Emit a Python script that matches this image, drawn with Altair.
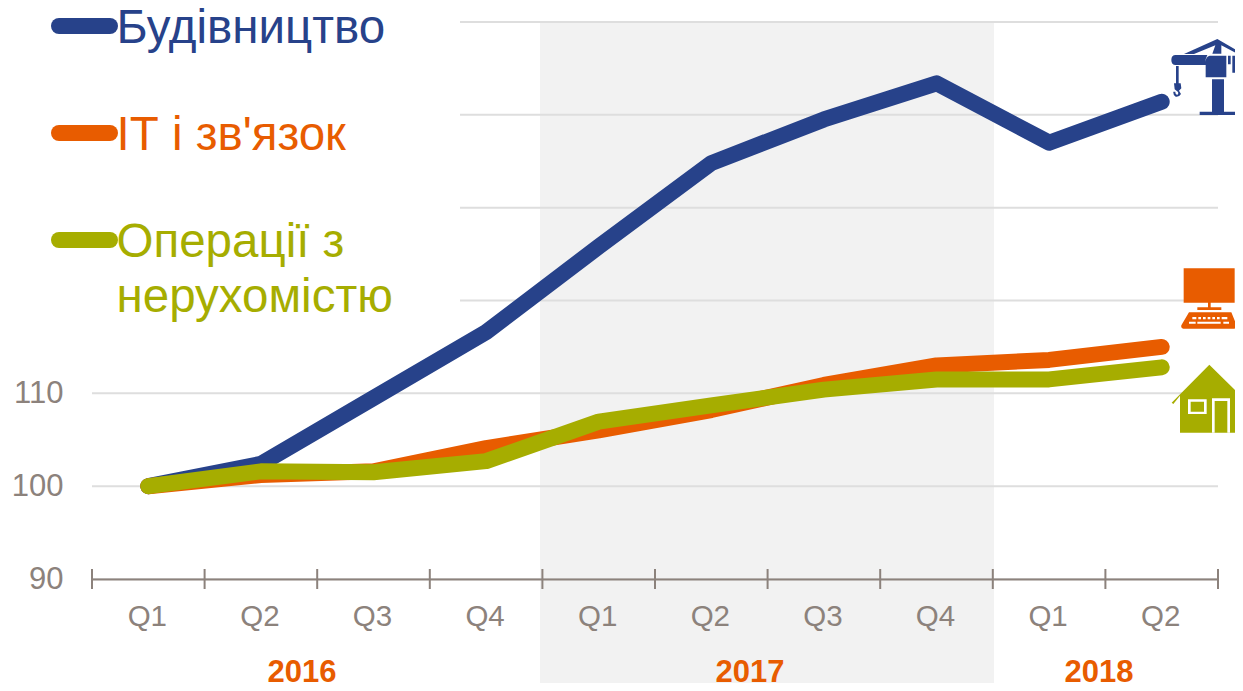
import altair as alt
import pandas as pd

FONT = "Liberation Sans"
NAVY, ORANGE, OLIVE = "#27428a", "#e85c00", "#a6ad00"
GREY = "#8c827c"
GRID = "#dedede"

cats = ["2016 Q1","2016 Q2","2016 Q3","2016 Q4","2017 Q1","2017 Q2","2017 Q3","2017 Q4","2018 Q1","2018 Q2"]
construction = [100, 102.4, 109.5, 116.6, 125.8, 134.8, 139.5, 143.4, 137.0, 141.4]
it_comm = [100, 101.2, 101.6, 104.1, 106.0, 108.2, 110.9, 113.0, 113.6, 115.0]
real_estate = [100, 101.6, 101.5, 102.7, 106.95, 108.7, 110.4, 111.5, 111.5, 112.8]

W, H = 1126, 557
xscale = alt.Scale(domain=cats, paddingInner=0, paddingOuter=0)
xaxis = alt.Axis(title=None, labelExpr="split(datum.value,' ')[1]", labelAngle=0,
                 labelFont=FONT, labelFontSize=29.5, labelColor=GREY, labelPadding=23, labelOffset=-1,
                 ticks=False, domainColor=GREY, domainWidth=2, grid=False, zindex=1)
yscale = alt.Scale(domain=[90, 150], nice=False, zero=False)
yaxis = alt.Axis(title=None, values=[90, 100, 110], labelFont=FONT, labelFontSize=31,
                 labelColor=GREY, labelPadding=29, domain=False, ticks=False, grid=False)
xenc = alt.X("q:N", sort=cats, scale=xscale, axis=xaxis)
yenc = alt.Y("v:Q", scale=yscale, axis=yaxis)

def df(vals):
    return pd.DataFrame({"q": cats, "v": vals})

shade = alt.Chart(pd.DataFrame({"a": [0]})).mark_rect(color="#f2f2f2").encode(
    x=alt.value(448), x2=alt.value(902), y=alt.value(0), y2=alt.value(669))

grid_low = alt.Chart(pd.DataFrame({"v": [90, 100, 110]})).mark_rule(color=GRID, strokeWidth=2).encode(
    y=yenc, x=alt.value(0), x2=alt.value(W))
grid_high = alt.Chart(pd.DataFrame({"v": [120, 130, 140, 150]})).mark_rule(color=GRID, strokeWidth=2).encode(
    y=yenc, x=alt.value(368), x2=alt.value(W))

ticks = alt.Chart(pd.DataFrame({"q": cats})).mark_rule(color=GREY, strokeWidth=2).encode(
    x=alt.X("q:N", sort=cats, bandPosition=0, scale=xscale, axis=xaxis),
    y=alt.value(547), y2=alt.value(567))
tick_end = alt.Chart(pd.DataFrame({"a": [0]})).mark_rule(color=GREY, strokeWidth=2).encode(
    x=alt.value(W), y=alt.value(547), y2=alt.value(567))

def series(vals, color):
    return alt.Chart(df(vals)).mark_line(color=color, strokeWidth=16, strokeCap="round",
                                         strokeJoin="round").encode(x=xenc, y=yenc)

def label(text, x, y, color, size, weight="normal", align="left"):
    return alt.Chart(pd.DataFrame({"t": [text]})).mark_text(
        font=FONT, fontSize=size, fontWeight=weight, color=color, align=align, baseline="alphabetic"
    ).encode(text="t:N", x=alt.value(x), y=alt.value(y))

def legend_line(y, color):
    return alt.Chart(pd.DataFrame({"a": [0]})).mark_rule(color=color, strokeWidth=16, strokeCap="round").encode(
        x=alt.value(-33), x2=alt.value(18), y=alt.value(y))

# Icons: paths in 3x-zoom coordinates of their crop, size 4/9 makes one unit a third of a pixel
def icon(path, x, y, color):
    return alt.Chart(pd.DataFrame({"a": [0]})).mark_point(
        shape=path, size=4/9, filled=True, fill=color, strokeWidth=0, opacity=1
    ).encode(x=alt.value(x), y=alt.value(y))

crane = ("M120,102 L220,57 L285,95 L285,104 L232,76 L232,101 L205,101 L214,76 L150,102 Z "
         "M95,105 L190,105 L185,118 L185,135 L95,135 Q82,135 82,120 Q82,105 95,105 Z "
         "M197,107 L247,107 L247,172 L185,172 L185,125 Q185,110 197,107 Z "
         "M252,107 L260,107 L260,133 L252,133 Z M265,107 L285,107 L285,158 L265,158 Z "
         "M96,138 L104,138 L104,190 L96,190 Z "
         "M90,190 L110,190 L112,205 L105,212 L111,222 Q105,232 95,230 Q87,226 88,215 L94,215 "
         "Q94,224 100,224 Q104,222 102,216 L92,208 Z "
         "M204,178 L240,178 L240,275 L204,275 Z M167,275 L275,275 L275,285 L167,285 Z")
computer = ("M119,55 L272,55 L272,158 L119,158 Z "
            "M192,158 L200,158 L200,172 L232,172 L232,180 L160,180 L160,172 L192,172 Z "
            "M135,187 L262,187 L279,228 Q279,236 270,236 L118,236 Q110,236 112,226 Z")
keys = ("M145,201 L157,201 L157,208 L145,208 Z M163,201 L171,201 L171,208 L163,208 Z "
        "M177,201 L185,201 L185,208 L177,208 Z M191,201 L199,201 L199,208 L191,208 Z "
        "M205,201 L213,201 L213,208 L205,208 Z M219,201 L227,201 L227,208 L219,208 Z "
        "M233,201 L250,201 L250,208 L233,208 Z "
        "M135,215 L155,215 L155,221 L135,221 Z M160,215 L230,215 L230,221 L160,221 Z "
        "M238,215 L255,215 L255,221 L238,221 Z")
house = "M83,458 L196,344 L285,432 L285,548 L108,548 L108,437 L88,462 Z"
house_w = ("M132,448 L188,448 L188,492 L132,492 Z M140,455 L140,485 L180,485 L180,455 Z "
           "M204,445 L258,445 L258,548 L250,548 L250,453 L212,453 L212,548 L204,548 Z")

SHIFT = 6  # the page margin takes the last 8px, so the icons move in a little
CX, CY = 1150 - 92 - SHIFT, 20 - 22
PX, PY = 1150 - 92 - SHIFT, 250 - 22

layers = [
    shade, grid_low, grid_high,
    series(construction, NAVY), series(it_comm, ORANGE), series(real_estate, OLIVE),
    ticks, tick_end,
    legend_line(4, NAVY), legend_line(111, ORANGE), legend_line(218, OLIVE),
    label("Будівництво", 24.5, 20.5, NAVY, 47.5),
    label("ІТ і зв'язок", 24.5, 128, ORANGE, 47.5),
    label("Операції з", 24.5, 234.5, OLIVE, 47.5),
    label("нерухомістю", 24.5, 289.5, OLIVE, 47.5),
    label("2016", 210, 660, ORANGE, 31, "bold", "center"),
    label("2017", 658, 660, ORANGE, 31, "bold", "center"),
    label("2018", 1007, 660, ORANGE, 31, "bold", "center"),
    icon(crane, CX, CY, NAVY),
    icon(computer, PX, PY, ORANGE), icon(keys, PX, PY, "#ffffff"),
    icon(house, PX, PY, OLIVE), icon(house_w, PX, PY, "#ffffff"),
]

chart = alt.layer(*layers).properties(
    width=W, height=H,
    autosize=alt.AutoSizeParams(type="none"),
    padding={"left": 84, "top": 14, "right": 17, "bottom": 104},
).configure_view(stroke=None)

chart.save("out.html", embed_options={"renderer": "svg", "actions": False})
